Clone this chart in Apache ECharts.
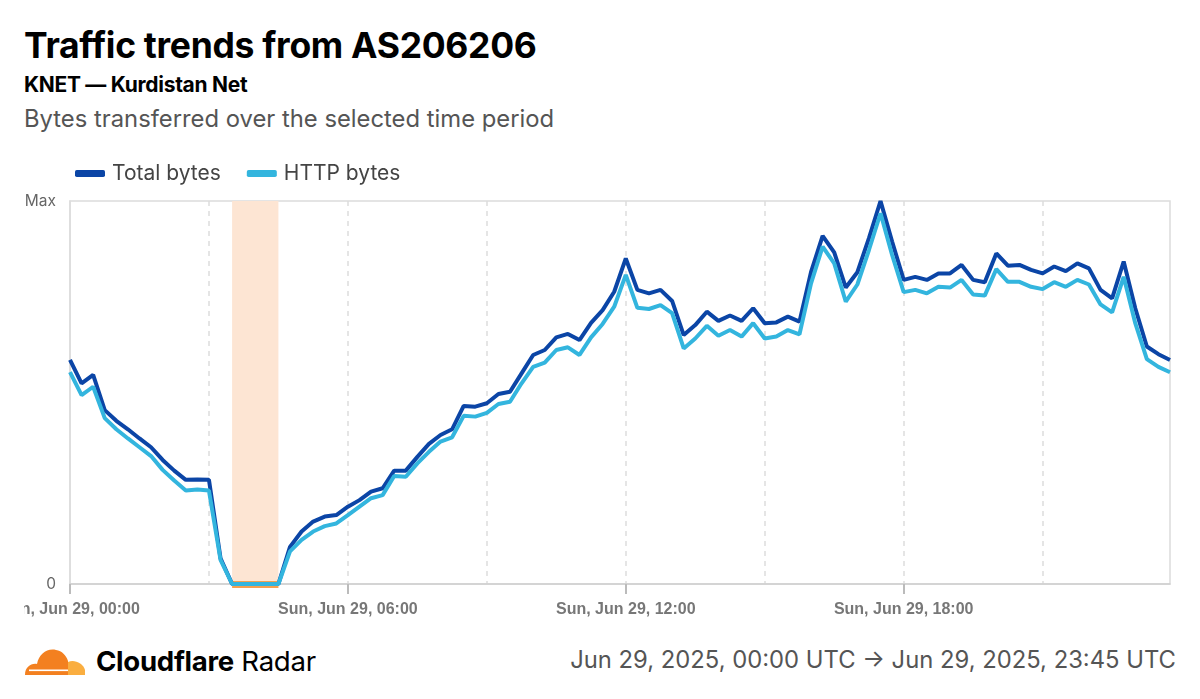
<!DOCTYPE html>
<html>
<head>
<meta charset="utf-8">
<script src="https://cdn.jsdelivr.net/npm/echarts@6/dist/echarts.min.js"></script>
<style>
  html, body { margin: 0; padding: 0; background: #fff; width: 1200px; height: 699px; overflow: hidden; font-family: Inter, "Noto Sans", sans-serif; }
  #title { position: absolute; left: 24px; top: 24px; font-size: 35.5px; font-weight: 700; color: #000; letter-spacing: -0.3px; }
  #sub { position: absolute; left: 24px; top: 72px; font-size: 21px; font-weight: 700; color: #000; letter-spacing: -0.3px; }
  #desc { position: absolute; left: 24px; top: 104px; font-size: 23.8px; color: #555; }
  #chart { position: absolute; left: 24px; top: 140px; width: 1152px; height: 490px; }
  #brand { position: absolute; left: 24px; top: 643px; height: 36px; display: flex; align-items: center; }
  #brand span.t { font-size: 27.6px; color: #000; margin-left: 10px; letter-spacing: -0.3px; }
  #range { position: absolute; right: 24px; top: 645px; font-size: 23.8px; color: #555; }
</style>
</head>
<body>
<div id="title">Traffic trends from AS206206</div>
<div id="sub">KNET — Kurdistan Net</div>
<div id="desc">Bytes transferred over the selected time period</div>
<div id="chart"></div>
<div id="brand">
  <svg width="62" height="30" viewBox="0 0 62 30">
    <path d="M1 29 C1 21 7 17 13 18 C15 8 23 2 32 4 C38 5 42 9 44 15 L44 29 Z" fill="#f38020"/>
    <path d="M44 29 L44 16 C50 13 59 17 61 24 L61 29 Z" fill="#faae40"/>
    <rect x="5" y="23.5" width="39" height="1.6" fill="#fff"/>
  </svg>
  <span class="t"><b>Cloudflare</b> Radar</span>
</div>
<div id="range">Jun 29, 2025, 00:00 UTC → Jun 29, 2025, 23:45 UTC</div>
<script>
// 15-minute buckets, Jun 29 2025 00:00 .. 23:45 UTC (relative to max = 100)
const times = [];
for (let h = 0; h < 24; h++) for (let m = 0; m < 60; m += 15) {
  times.push('Sun, Jun 29, ' + String(h).padStart(2, '0') + ':' + String(m).padStart(2, '0'));
}
const totalBytes = [
  58.5, 52.4, 54.6, 45.4, 42.6, 40.4, 38.0, 35.7, 32.4, 29.6, 27.2, 27.3,
  27.2, 6.7, 0, 0, 0, 0, 0, 9.7, 13.7, 16.3, 17.6, 18.0,
  20.2, 21.9, 24.1, 25.0, 29.6, 29.6, 33.2, 36.6, 38.9, 40.4, 46.5, 46.3,
  47.2, 49.6, 50.2, 55.0, 59.8, 61.1, 64.4, 65.3, 63.7, 68.2, 71.5, 76.3,
  85.0, 76.8, 75.9, 76.8, 73.9, 65.0, 67.6, 71.1, 68.7, 70.1, 68.7, 72.0,
  68.1, 68.3, 69.8, 68.5, 81.5, 90.9, 86.6, 77.4, 81.4, 90.3, 100, 89.4,
  79.4, 80.2, 79.4, 81.1, 81.1, 83.3, 79.4, 78.8, 86.3, 83.1, 83.3, 82.0,
  81.1, 82.9, 81.7, 83.7, 82.4, 76.8, 74.6, 84.2, 72.0, 62.0, 60.0, 58.5
];
const httpBytes = [
  55.3, 49.3, 51.5, 43.3, 40.4, 38.0, 35.7, 33.4, 29.8, 27.0, 24.4, 24.7,
  24.4, 6.3, 0, 0, 0, 0, 0, 8.5, 11.5, 13.7, 15.1, 15.8,
  18.0, 20.2, 22.4, 23.2, 28.2, 28.0, 31.5, 34.5, 37.2, 38.3, 43.9, 43.7,
  44.7, 47.0, 47.6, 52.4, 56.7, 57.8, 61.1, 61.8, 59.8, 64.4, 67.9, 72.4,
  80.7, 72.1, 71.8, 72.8, 70.7, 61.5, 64.1, 67.4, 64.8, 66.3, 64.6, 68.1,
  64.1, 64.6, 66.3, 65.2, 78.5, 88.1, 83.7, 73.7, 78.2, 87.2, 96.8, 85.9,
  76.2, 76.8, 75.9, 77.6, 77.4, 79.4, 75.6, 75.3, 82.2, 78.9, 78.9, 77.6,
  77.0, 78.8, 77.6, 79.4, 78.2, 73.0, 70.9, 80.2, 68.1, 58.7, 56.7, 55.3
];
const seriesNames = ['Total bytes', 'HTTP bytes'];
const seriesColors = ['#0b45a6', '#33b5de'];
const outageStart = 'Sun, Jun 29, 03:30';
const outageEnd = 'Sun, Jun 29, 04:30';

const chart = echarts.init(document.getElementById('chart'), null, { renderer: 'canvas' });
chart.setOption({
  animation: false,
  textStyle: { fontFamily: 'Inter, "Noto Sans", sans-serif' },
  legend: {
    left: 46, top: 18, itemWidth: 30, itemHeight: 7, itemGap: 26, icon: 'roundRect',
    textStyle: { fontSize: 21, color: '#444', padding: [0, 0, 0, 2] },
    data: seriesNames
  },
  grid: { left: 46, right: 6, top: 61, bottom: 46, containLabel: false, outerBoundsMode: 'none',
    show: true, borderColor: '#dcdcdc', borderWidth: 1.5 },
  xAxis: {
    type: 'category', data: times, boundaryGap: false,
    axisLine: { lineStyle: { color: '#cfcfcf', width: 1.5 } },
    axisTick: { show: true, length: 10, interval: (i) => i % 24 === 0, lineStyle: { color: '#bbb', width: 2 } },
    axisLabel: { interval: (i) => i % 24 === 0, fontSize: 16, fontWeight: 'bold', color: '#777', margin: 18, fontFamily: '"Liberation Sans", Arial, sans-serif' },
    splitLine: { show: true, interval: (i) => i % 12 === 0 && i !== 0, lineStyle: { color: '#ddd', type: [5, 5], width: 1.5 } }
  },
  yAxis: {
    type: 'value', min: 0, max: 100, interval: 100,
    axisLine: { show: true, lineStyle: { color: '#dcdcdc', width: 1.5 } },
    axisTick: { show: false },
    splitLine: { show: false },
    axisLabel: { fontSize: 15.5, color: '#666', margin: 14, formatter: (v) => v === 100 ? 'Max' : (v === 0 ? '0' : '') }
  },
  series: [
    {
      name: seriesNames[0], type: 'line', data: totalBytes, showSymbol: false, symbol: 'none',
      lineStyle: { color: seriesColors[0], width: 4 }, itemStyle: { color: seriesColors[0] },
      markArea: { silent: true, z: 0, itemStyle: { color: '#fde5d3' }, data: [[{ xAxis: outageStart }, { xAxis: outageEnd }]] },
      markLine: { silent: true, z: 1, symbol: 'none', label: { show: false }, lineStyle: { color: '#f5a04f', width: 7, type: 'solid' },
        data: [[{ coord: [outageStart, 0] }, { coord: [outageEnd, 0] }]] }
    },
    {
      name: seriesNames[1], type: 'line', data: httpBytes, showSymbol: false, symbol: 'none',
      lineStyle: { color: seriesColors[1], width: 4 }, itemStyle: { color: seriesColors[1] }
    }
  ]
});
</script>
</body>
</html>
